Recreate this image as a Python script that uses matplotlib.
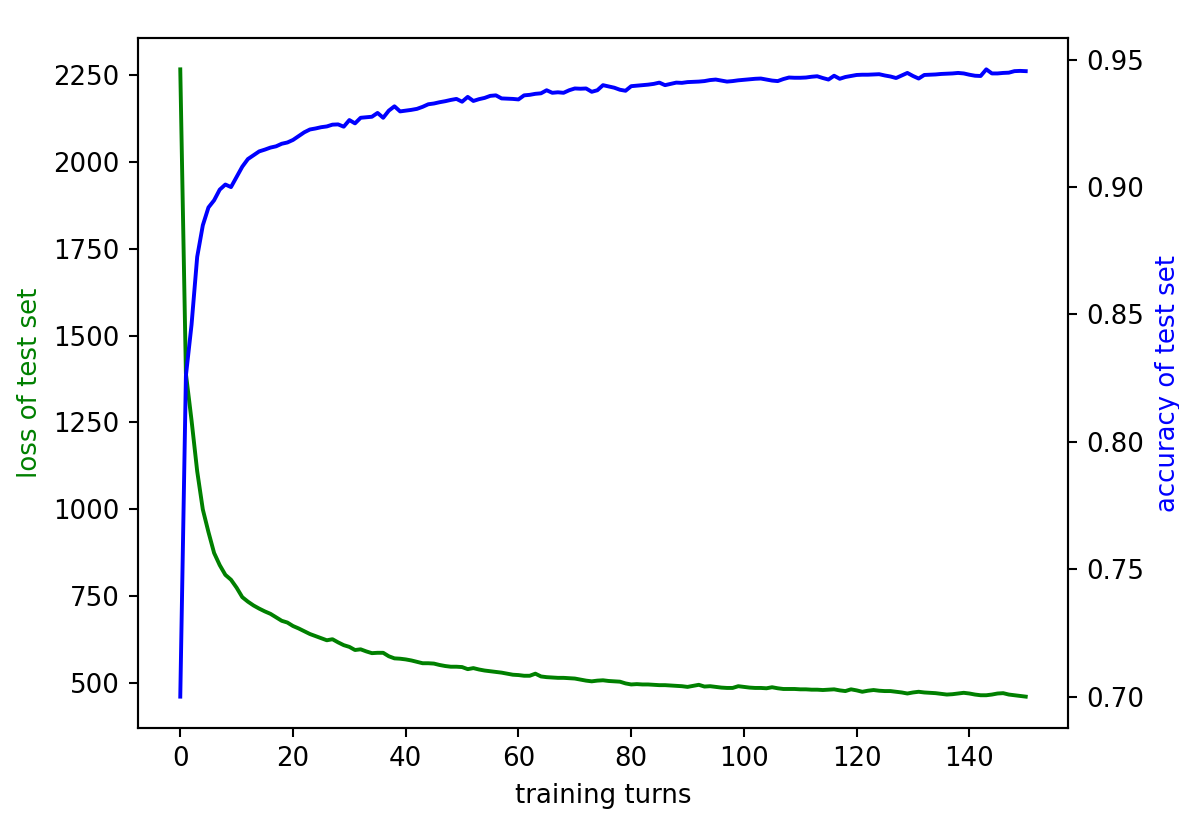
import matplotlib
matplotlib.use("Agg")
import matplotlib.pyplot as plt

epochs = list(range(151))

loss = [2265, 1390, 1256, 1110, 1000, 935, 875, 840, 812, 798,
        775, 748, 735, 724, 715, 707, 700, 690, 680, 675,
        665, 658, 650, 642, 636, 630, 624, 627, 618, 610,
        605, 596, 598, 592, 587, 588, 588, 578, 572, 571,
        569, 566, 562, 558, 558, 557, 553, 550, 548, 548,
        547, 541, 544, 540, 537, 535, 533, 531, 528, 525,
        524, 522, 522, 528, 520, 518, 517, 516, 516, 515,
        514, 511, 508, 506, 508, 509, 507, 506, 505, 500,
        497, 498, 497, 497, 496, 495, 495, 494, 493, 492,
        490, 493, 496, 491, 492, 490, 488, 487, 487, 492,
        490, 488, 487, 487, 486, 489, 486, 484, 484, 484,
        483, 483, 482, 482, 481, 482, 483, 480, 478, 483,
        480, 476, 479, 481, 479, 478, 478, 476, 474, 471,
        474, 476, 474, 473, 472, 470, 468, 469, 471, 473,
        471, 468, 466, 466, 468, 471, 472, 468, 466, 464,
        462]

accuracy = [0.700, 0.826, 0.846, 0.8726, 0.885, 0.892, 0.8948, 0.8990, 0.9010, 0.9000,
            0.9040, 0.9080, 0.9110, 0.9125, 0.9140, 0.9147, 0.9155, 0.9160, 0.9170, 0.9175,
            0.9185, 0.9200, 0.9215, 0.9226, 0.9230, 0.9235, 0.9238, 0.9245, 0.9246, 0.9237,
            0.9263, 0.9250, 0.9272, 0.9274, 0.9276, 0.9291, 0.9272, 0.9300, 0.9317, 0.9297,
            0.9300, 0.9303, 0.9307, 0.9315, 0.9325, 0.9328, 0.9333, 0.9337, 0.9342, 0.9346,
            0.9335, 0.9354, 0.9338, 0.9345, 0.9350, 0.9358, 0.9360, 0.9348, 0.9347, 0.9346,
            0.9344, 0.9360, 0.9362, 0.9366, 0.9368, 0.9380, 0.9370, 0.9372, 0.9370, 0.9380,
            0.9387, 0.9386, 0.9387, 0.9374, 0.9380, 0.9400, 0.9395, 0.9390, 0.9382, 0.9378,
            0.9396, 0.9398, 0.9400, 0.9402, 0.9405, 0.9410, 0.9400, 0.9405, 0.9410, 0.9409,
            0.9412, 0.9413, 0.9414, 0.9416, 0.9420, 0.9422, 0.9418, 0.9414, 0.9416, 0.9419,
            0.9421, 0.9423, 0.9425, 0.9426, 0.9422, 0.9418, 0.9416, 0.9424, 0.9430, 0.9429,
            0.9429, 0.9430, 0.9433, 0.9435, 0.9428, 0.9422, 0.9437, 0.9425, 0.9432, 0.9436,
            0.9440, 0.9441, 0.9441, 0.9442, 0.9443, 0.9438, 0.9434, 0.9428, 0.9438, 0.9448,
            0.9436, 0.9426, 0.9440, 0.9441, 0.9442, 0.9444, 0.9445, 0.9446, 0.9448, 0.9446,
            0.9441, 0.9437, 0.9436, 0.9462, 0.9446, 0.9446, 0.9448, 0.9449, 0.9455, 0.9456,
            0.9455]

fig = plt.figure(figsize=(1179 / 187, 815 / 187), dpi=187)
ax1 = fig.add_axes([138 / 1179, 87 / 815, 930 / 1179, 690 / 815])
ax1.plot(epochs, loss, color='g')
ax1.set_xlabel('training turns')
ax1.set_ylabel('loss of test set', color='g')

ax2 = ax1.twinx()
ax2.plot(epochs, accuracy, color='b')
ax2.set_ylabel('accuracy of test set', color='b')

fig.savefig('out.png', dpi=187)
